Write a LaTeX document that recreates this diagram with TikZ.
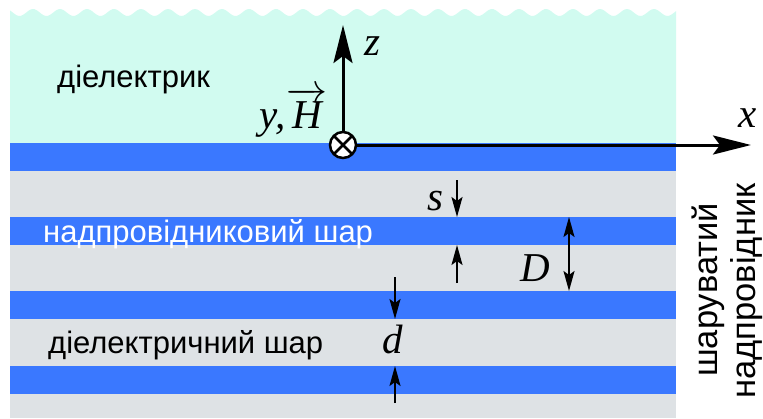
\RequirePackage{fix-cm}
\documentclass[tikz,border=0pt]{standalone}
\usepackage{fontspec}
\setmainfont{Liberation Sans}
\newfontfamily\serifit{Liberation Serif}
\usetikzlibrary{arrows.meta}
\definecolor{dielcyan}{RGB}{209,251,240}
\definecolor{scblue}{RGB}{58,120,255}
\definecolor{layergray}{RGB}{222,226,229}

\begin{document}
\begin{tikzpicture}[
			x=1pt,
			y=-1pt,
			sanstext/.style={font=\fontsize{31}{36}\selectfont, inner sep=0pt},
			sidetext/.style={font=\fontsize{34.5}{38}\selectfont, inner sep=0pt, rotate=90, anchor=base},
			mathtext/.style={font=\fontsize{41}{46}\selectfont\serifit\itshape, inner sep=0pt},
			axisarrow/.style={line width=3pt, -{Stealth[length=38pt, width=19pt, inset=7pt]}},
			dimarrow/.style={line width=2pt, -{Stealth[length=20pt, width=11pt, inset=4pt]}},
			dimboth/.style={line width=2pt, {Stealth[length=20pt, width=11pt, inset=4pt]}-{Stealth[length=20pt, width=11pt, inset=4pt]}},
			stripe/.style={fill=scblue}
		]
			\useasboundingbox (0,0) rectangle (763,418);

			% layers
			\fill[dielcyan] (10,143) -- plot[domain=10:676, samples=300] (\x,{12.5-3.5*cos(13.3333*(\x-33))}) -- (676,143) -- cycle;
			\fill[layergray] (10,171) rectangle (676,418);
			\fill[stripe] (10,143) rectangle (676,171);
			\fill[stripe] (10,217) rectangle (676,245);
			\fill[stripe] (10,291) rectangle (676,319);
			\fill[stripe] (10,366) rectangle (676,394);

			\node[sanstext, anchor=base west] (diel) at (57,87) {діелектрик};
			\node[sanstext, anchor=base west, text=white] (sclayer) at (43,242) {надпровідниковий шар};
			\node[sanstext, anchor=base west] (diellayer) at (48,353) {діелектричний шар};

			\node[sidetext] (layeredA) at (717,290) {шаруватий};
			\node[sidetext] (layeredB) at (755,291) {надпровідник};

			% axes
			\node[circle, draw, fill=white, line width=2.5pt, minimum size=26pt, inner sep=0pt] (origin) at (343,145) {};
			\draw[line width=2.5pt, shorten <=2pt, shorten >=2pt] (origin.45) -- (origin.225);
			\draw[line width=2.5pt, shorten <=2pt, shorten >=2pt] (origin.135) -- (origin.315);

			\coordinate (ztip) at (343,25);
			\coordinate (xtip) at (751,145);
			\draw[axisarrow] (origin.north) -- (ztip);
			\draw[axisarrow] (origin.east) -- (xtip);

			\node[mathtext] (zlab) at (372,46) {z};
			\node[mathtext] (xlab) at (748,118) {x};
			\node[mathtext, anchor=base east] (ylab) at (328,128) {y,\kern1pt$\overrightarrow{\hbox{\serifit\itshape H}}$};

			% s, D, d
			\coordinate (sA) at (457,180);
			\coordinate (sAtip) at (457,217);
			\coordinate (sB) at (457,283);
			\coordinate (sBtip) at (457,245);
			\draw[dimarrow] (sA) -- (sAtip);
			\draw[dimarrow] (sB) -- (sBtip);
			\node[mathtext] (slab) at (435,201) {s};

			\coordinate (Dtop) at (569,217);
			\coordinate (Dbot) at (569,291);
			\draw[dimboth] (Dtop) -- (Dbot);
			\node[mathtext] (Dlab) at (535,268) {D};

			\coordinate (dA) at (395,277);
			\coordinate (dAtip) at (395,319);
			\coordinate (dB) at (395,403);
			\coordinate (dBtip) at (395,366);
			\draw[dimarrow] (dA) -- (dAtip);
			\draw[dimarrow] (dB) -- (dBtip);
			\node[mathtext] (dlab) at (393,339) {d};
		\end{tikzpicture}
\end{document}
